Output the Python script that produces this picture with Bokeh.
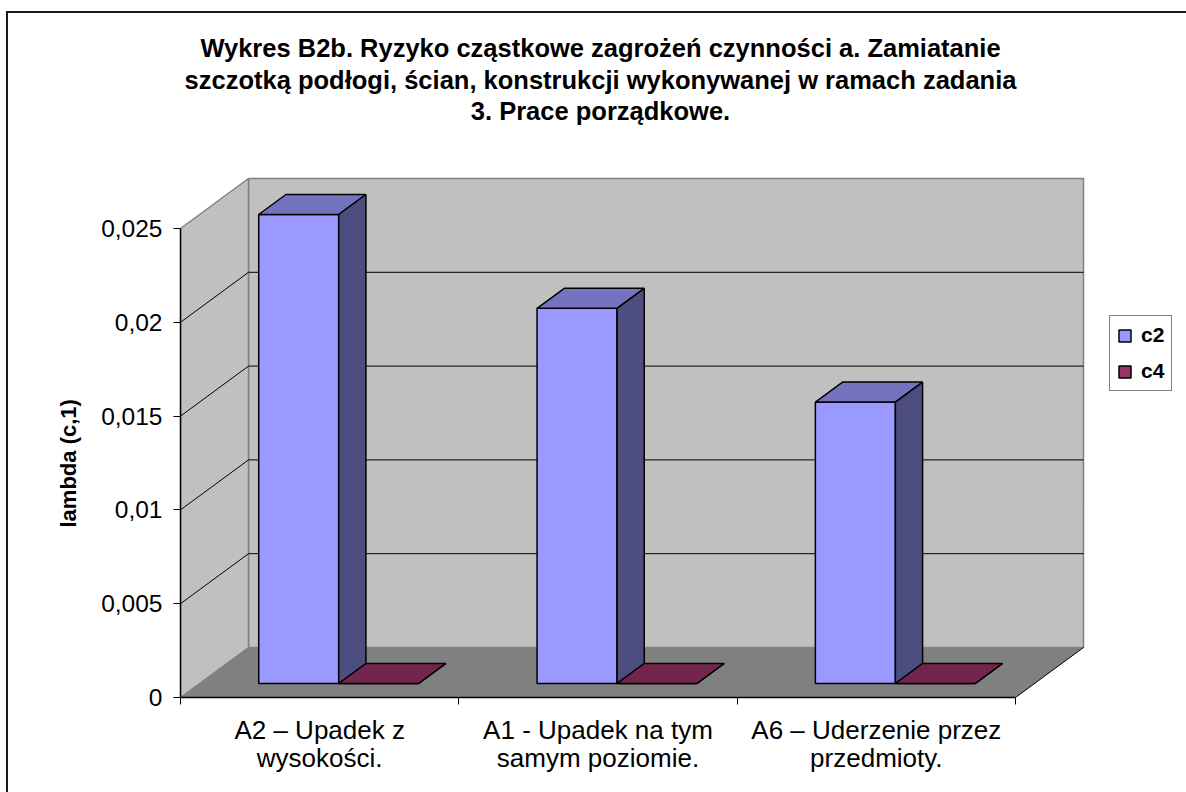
from bokeh.plotting import figure
from bokeh.models import (FixedTicker, CustomJSTickFormatter, Range1d, Legend, LegendItem, Title)
from bokeh.core.properties import value
from bokeh.embed import file_html
from bokeh.resources import INLINE

# ---------------- data ----------------
title_lines = [
    "Wykres B2b. Ryzyko cząstkowe zagrożeń czynności a. Zamiatanie",
    "szczotką podłogi, ścian, konstrukcji wykonywanej w ramach zadania",
    "3. Prace porządkowe.",
]
categories = [
    "A2 – Upadek z\nwysokości.",
    "A1 - Upadek na tym\nsamym poziomie.",
    "A6 – Uderzenie przez\nprzedmioty.",
]
series_names = ["c2", "c4"]
c2_values = [0.025, 0.02, 0.015]
c4_values = [0.0, 0.0, 0.0]
y_ticks = [0, 0.005, 0.01, 0.015, 0.02, 0.025]
y_tick_labels = ["0", "0,005", "0,01", "0,015", "0,02", "0,025"]
y_label = "lambda (c,1)"

# ---------------- styles / layout ----------------
FONT = "Liberation Sans"
front_colors = ["#9999FF", "#993366"]
top_colors = ["#7373BF", "#73264D"]
side_colors = ["#4D4D80", "#4D1A33"]
WALL = "#C0C0C0"
FLOOR = "#808080"

# page geometry (pixels)
FIG_LEFT, FIG_TOP = 8, 13
FIG_W, FIG_H = 1178, 779
FRAME_L, FRAME_R, FRAME_T, FRAME_B = 180, 1186, 16, 697
AXIS_TOP = 228          # page y of the top tick on the front plane
AXIS_RIGHT = 1015       # page x of the end of the category axis
BOX_DX, BOX_DY = 68, 50 # 3-D depth of the chart box
BAR_F0, BAR_F1 = 0.28, 0.68   # depth fractions of bar front / back planes
BAR_W = 0.2874          # bar width as fraction of a category
LEG_L, LEG_B = 1109, 391
TITLE_X, TITLE_Y = 600, [47, 79, 110]
YLABEL_START = 527      # page y where the rotated axis title begins

n_cat = len(categories)
y_max = max(y_ticks)
PX_X = (AXIS_RIGHT - FRAME_L) / n_cat
PX_Y = (FRAME_B - AXIS_TOP) / y_max
ddx = BOX_DX / PX_X
ddy = BOX_DY / PX_Y


def px_x(px):
    return (px - FRAME_L) / PX_X


def px_y(py):
    return (FRAME_B - py) / PX_Y


p = figure(
    width=FIG_W, height=FIG_H,
    x_range=Range1d(0, px_x(FRAME_R)), y_range=Range1d(0, px_y(FRAME_T)),
    output_backend="svg", toolbar_location=None,
    min_border_left=FRAME_L - FIG_LEFT, min_border_right=FIG_LEFT + FIG_W - FRAME_R,
    min_border_top=FRAME_T - FIG_TOP, min_border_bottom=FIG_TOP + FIG_H - FRAME_B,
    background_fill_color="white", border_fill_color="white",
    outline_line_color=None,
)
p.margin = (FIG_TOP, 0, 0, FIG_LEFT)
p.styles = {"outline": "2px solid #1a1a1a"}
p.grid.visible = False

# ---------------- walls and floor ----------------
p.quad(left=[ddx], right=[n_cat + ddx], bottom=[ddy], top=[y_max + ddy],
       fill_color=WALL, line_color="#808080", line_width=1.5)
p.patch([0, ddx, ddx, 0], [0, ddy, y_max + ddy, y_max],
        fill_color=WALL, line_color="#808080", line_width=1.5)
p.patch([0, n_cat, n_cat + ddx, ddx], [0, 0, ddy, ddy],
        fill_color=FLOOR, line_color=None)
p.line([n_cat, n_cat + ddx], [0, ddy], line_color="black", line_width=1)

inner = [t for t in y_ticks if 0 < t < y_max]
p.multi_line([[ddx, n_cat + ddx] for t in inner], [[t + ddy, t + ddy] for t in inner],
             line_color="black", line_width=1)
p.multi_line([[0, ddx] for t in inner], [[t, t + ddy] for t in inner],
             line_color="black", line_width=1)

# ---------------- bars ----------------
margin = (1 - 2 * BAR_W) / 2
dd = BAR_F1 - BAR_F0
legend_items = []
for s, vals in enumerate([c2_values, c4_values]):
    L = [i + margin + s * BAR_W + BAR_F0 * ddx for i in range(n_cat)]
    R = [l + BAR_W for l in L]
    B = [BAR_F0 * ddy] * n_cat
    T = [v + BAR_F0 * ddy for v in vals]
    top_xs = [[l, r, r + dd * ddx, l + dd * ddx] for l, r in zip(L, R)]
    top_ys = [[t, t, t + dd * ddy, t + dd * ddy] for t in T]
    side_xs = [[r, r, r + dd * ddx, r + dd * ddx] for r in R]
    side_ys = [[b, t, t + dd * ddy, b + dd * ddy] for b, t in zip(B, T)]
    fr = p.quad(left=L, right=R, bottom=B, top=T, fill_color=front_colors[s],
                line_color="black", line_width=1.5)
    p.patches(top_xs, top_ys, fill_color=top_colors[s], line_color="black", line_width=1.5)
    p.patches(side_xs, side_ys, fill_color=side_colors[s], line_color="black", line_width=1.5)
    legend_items.append(LegendItem(label=series_names[s], renderers=[fr]))

# ---------------- title ----------------
p.text(x=[px_x(TITLE_X)] * len(title_lines), y=[px_y(v) for v in TITLE_Y], text=title_lines,
       text_font=value(FONT), text_font_style="bold", text_font_size="25.5px",
       text_align="center", text_baseline="middle", text_color="black")

# ---------------- axes ----------------
yax = p.yaxis[0]
yax.ticker = FixedTicker(ticks=y_ticks)
yax.formatter = CustomJSTickFormatter(args=dict(labels=y_tick_labels),
                                      code="return labels[index];")
yax.bounds = (0, y_max)
yax.axis_line_color = "black"
yax.axis_line_width = 1.5
yax.major_tick_out = 7
yax.major_tick_in = 0
yax.minor_tick_line_color = None
yax.major_label_standoff = 11
yax.major_label_text_font = FONT
yax.major_label_text_font_size = "24.5px"
yax.major_label_text_color = "black"

# rotated axis title in the left panel, positioned along the bounded axis
p.add_layout(Title(text=y_label, align="left", offset=FRAME_B - YLABEL_START,
                   vertical_align="middle", standoff=34, text_font=FONT,
                   text_font_style="bold", text_font_size="22px", text_color="black"),
             "left")

xax = p.xaxis[0]
xax.ticker = FixedTicker(ticks=[i + 0.5 for i in range(n_cat)],
                         minor_ticks=list(range(n_cat + 1)))
xax.formatter = CustomJSTickFormatter(args=dict(labels=categories),
                                      code="return labels[Math.floor(tick)];")
xax.bounds = (0, n_cat)
xax.axis_line_color = "black"
xax.axis_line_width = 1.5
xax.major_tick_line_color = None
xax.minor_tick_line_color = "black"
xax.minor_tick_out = 7
xax.minor_tick_in = 0
xax.major_label_standoff = 10
xax.major_label_text_font = FONT
xax.major_label_text_font_size = "26px"
xax.major_label_text_color = "black"
xax.major_label_text_line_height = 0.95

# ---------------- legend ----------------
legend = Legend(items=legend_items, location=(LEG_L - FRAME_L, FRAME_B - LEG_B),
                border_line_color="black", border_line_width=1,
                background_fill_color="white", background_fill_alpha=1,
                glyph_width=15, glyph_height=15, label_standoff=9,
                label_text_font=FONT, label_text_font_style="bold",
                label_text_font_size="21px", label_text_color="black",
                padding=7, spacing=12, margin=0)
p.add_layout(legend)

open("out.html", "w").write(file_html(p, INLINE))
